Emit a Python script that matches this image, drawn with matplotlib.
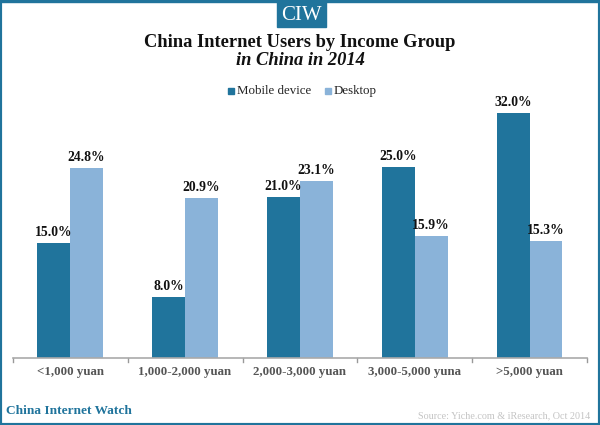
import numpy as np
import matplotlib
matplotlib.use("Agg")
import matplotlib.pyplot as plt
from matplotlib.patches import Rectangle

plt.rcParams['font.family'] = ['Liberation Serif', 'DejaVu Serif']

categories = ["<1,000 yuan", "1,000-2,000 yuan", "2,000-3,000 yuan", "3,000-5,000 yuna", ">5,000 yuan"]
mobile = [15.0, 8.0, 21.0, 25.0, 32.0]
desktop = [24.8, 20.9, 23.1, 15.9, 15.3]

TEAL = "#20749c"
LIGHT = "#8ab3d9"
W, H = 600, 425

fig = plt.figure(figsize=(W / 100, H / 100), dpi=100)

# axes placed in pixels: baseline at y=358, x from 12.7 to 587.2
ax = fig.add_axes([12.7 / W, 1 - 358 / H, 574.5 / W, 268 / H])
x = np.arange(len(categories))
width = 0.285
ax.bar(x - width / 2, mobile, width, color=TEAL, label="Mobile device")
ax.bar(x + width / 2, desktop, width, color=LIGHT, label="Desktop")

for i in range(len(categories)):
    ax.text(x[i] - width / 2, mobile[i] + 0.5, f"{mobile[i]:.1f}%", ha='center', va='bottom',
            fontsize=9.8, fontweight='bold', color='#111111')
    ax.text(x[i] + width / 2, desktop[i] + 0.5, f"{desktop[i]:.1f}%", ha='center', va='bottom',
            fontsize=9.8, fontweight='bold', color='#111111')

ax.set_xlim(-0.5, len(categories) - 0.5)
ax.set_ylim(0, 35)
ax.set_yticks([])
ax.set_xticks(x)
ax.set_xticklabels(categories, fontsize=9.3, fontweight='bold', color='#555555')
ax.tick_params(axis='x', length=0, pad=5.5)
# small ticks between the groups
for pos in np.arange(len(categories) + 1) - 0.5:
    ax.plot([pos, pos], [0, -0.5], color='#999999', lw=1, clip_on=False)
for s in ['top', 'right', 'left']:
    ax.spines[s].set_visible(False)
ax.spines['bottom'].set_color('#aaaaaa')
ax.spines['bottom'].set_linewidth(1.2)

# legend
fig.patches.append(Rectangle((228 / W, 1 - 94 / H), 6 / W, 6 / H, transform=fig.transFigure, color=TEAL))
fig.text(237 / W, 1 - 94 / H, "Mobile device", fontsize=9.3, color='#222222', va='baseline')
fig.patches.append(Rectangle((325 / W, 1 - 94 / H), 6 / W, 6 / H, transform=fig.transFigure, color=LIGHT))
fig.text(334 / W, 1 - 94 / H, "Desktop", fontsize=9.3, color='#222222', va='baseline')

# titles
fig.text(300 / W, 1 - 47 / H, "China Internet Users by Income Group", ha='center', va='baseline',
         fontsize=13.3, fontweight='bold', color='#111111')
fig.text(300 / W, 1 - 65 / H, "in China in 2014", ha='center', va='baseline',
         fontsize=13.3, fontweight='bold', fontstyle='italic', color='#111111')

# frame and badge
fig.patches.append(Rectangle((0, 0), 1, 1, transform=fig.transFigure, fill=False, ec=TEAL, lw=3))
fig.patches.append(Rectangle((0, 1 - 2 / H), 1, 2 / H, transform=fig.transFigure, color=TEAL))
fig.patches.append(Rectangle((277 / W, 1 - 27 / H), 49 / W, 27 / H, transform=fig.transFigure, color=TEAL))
fig.text(301 / W, 1 - 15 / H, "CIW", ha='center', va='center', fontsize=15, color='white')

# footer
fig.text(6 / W, 1 - 411 / H, "China Internet Watch", fontsize=9.6, fontweight='bold', color=TEAL, va='center')
fig.text(590 / W, 1 - 416 / H, "Source: Yiche.com & iResearch, Oct 2014", fontsize=7.3, color='#c4c4c4',
         ha='right', va='center')

fig.savefig("out.png", dpi=100)
